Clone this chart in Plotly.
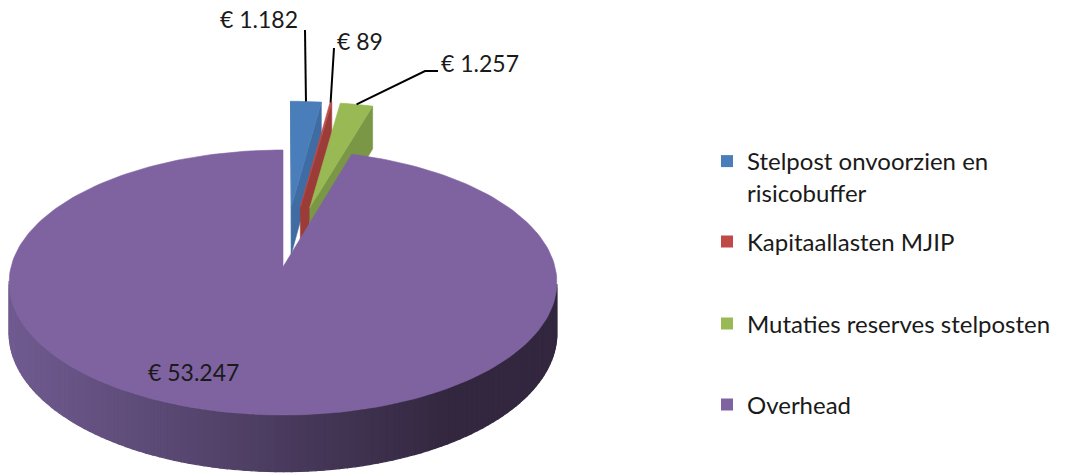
import math
import plotly.graph_objects as go

categories = ["Stelpost onvoorzien en<br>risicobuffer", "Kapitaallasten MJIP",
              "Mutaties reserves stelposten", "Overhead"]
values = [1182, 89, 1257, 53247]
value_labels = ["€ 1.182", "€ 89", "€ 1.257", "€ 53.247"]
exploded = [True, True, True, False]

top_colors = ["#4A7EBB", "#BE4B48", "#98B954", "#7F63A1"]
wall_colors = ["#3F6CA3", "#9C3C39", "#7A9746", "#5A4878"]

FONT = "Lato"

# pie geometry, in pixels of the 1066x474 page
CX, CY = 283, 267
RX, RY = 272, 130.7
DEPTH = 50
PERSP = 0.117
EXPLODE = 0.49


def proj(u, v, z=0.0):
    s = 1 / (1 + PERSP * v)
    return CX + RX * u * s, CY - RY * v * s + DEPTH * z * s


def poly(pts, color, lw=0.6):
    xs = [p[0] for p in pts] + [pts[0][0]]
    ys = [p[1] for p in pts] + [pts[0][1]]
    return go.Scatter(x=xs, y=ys, mode="lines", fill="toself", fillcolor=color,
                      line=dict(color=color, width=lw), hoverinfo="skip",
                      showlegend=False)


def lerp_color(c1, c2, t):
    t = max(0.0, min(1.0, t))
    c = [round(a + (b - a) * t) for a, b in zip(c1, c2)]
    return "rgb(%d,%d,%d)" % tuple(c)


total = sum(values)
slices = []
start = 0.0
for i, v in enumerate(values):
    sweep = 360.0 * v / total
    a0, a1 = start, start + sweep
    mid = math.radians((a0 + a1) / 2)
    d = EXPLODE if exploded[i] else 0.0
    slices.append(dict(a0=a0, a1=a1, ou=d * math.sin(mid), ov=d * math.cos(mid)))
    start = a1

viewer = (0.0, -1 / PERSP)

wall_traces = []
top_traces = []
front_traces = []
for i, s in enumerate(slices):
    ou, ov = s["ou"], s["ov"]
    n = max(4, int((s["a1"] - s["a0"]) / 1.5))
    angs = [math.radians(s["a0"] + (s["a1"] - s["a0"]) * k / n) for k in range(n + 1)]
    arc = [(ou + math.sin(a), ov + math.cos(a)) for a in angs]

    # radial side walls
    for a, sign in ((math.radians(s["a0"]), -1), (math.radians(s["a1"]), 1)):
        nu, nv = sign * math.cos(a), -sign * math.sin(a)
        pu, pv = ou + 0.5 * math.sin(a), ov + 0.5 * math.cos(a)
        if nu * (viewer[0] - pu) + nv * (viewer[1] - pv) > 0:
            eu, ev = ou + math.sin(a), ov + math.cos(a)
            pts = [proj(ou, ov), proj(eu, ev), proj(eu, ev, 1), proj(ou, ov, 1)]
            wall_traces.append((i, poly(pts, wall_colors[i])))

    # outer rim wall, front facing part, shaded left to right
    for k in range(n):
        am = (angs[k] + angs[k + 1]) / 2
        if math.cos(am) < -PERSP:
            p0 = (ou + math.sin(angs[k]), ov + math.cos(angs[k]))
            p1 = (ou + math.sin(angs[k + 1]), ov + math.cos(angs[k + 1]))
            pts = [proj(*p0), proj(*p1), proj(*p1, 1), proj(*p0, 1)]
            xm = (pts[0][0] + pts[1][0]) / 2
            col = lerp_color((112, 91, 144), (50, 39, 63), (xm - 10) / 440)
            front_traces.append((i, poly(pts, col, 1.2)))

    top = [proj(ou, ov)] + [proj(*p) for p in arc]
    top_traces.append((i, poly(top, top_colors[i])))

fig = go.Figure()
small = [i for i in range(len(values)) if exploded[i]]
big = [i for i in range(len(values)) if not exploded[i]]
for grp in (small, big):
    for i, t in wall_traces + front_traces:
        if i in grp:
            fig.add_trace(t)
    for i, t in top_traces:
        if i in grp:
            fig.add_trace(t)

# data labels and leader lines
label_pos = [(259, 19), (360, 41), (480, 63), (193, 372)]
leader_ends = [[(305, 30)], [(334, 48)], [(425, 71), (438, 71)], None]
for i, s in enumerate(slices):
    if leader_ends[i]:
        mid = math.radians((s["a0"] + s["a1"]) / 2)
        px, py = proj(s["ou"] + math.sin(mid), s["ov"] + math.cos(mid))
        pts = [(px, py)] + leader_ends[i]
        fig.add_trace(go.Scatter(x=[p[0] for p in pts], y=[p[1] for p in pts],
                                 mode="lines", line=dict(color="black", width=2),
                                 hoverinfo="skip", showlegend=False))
    fig.add_annotation(x=label_pos[i][0], y=label_pos[i][1], text=value_labels[i],
                       showarrow=False, font=dict(family=FONT, size=23, color="#1a1a1a"))

# legend, one box per entry so spacing matches the original
legend_y = [177, 242, 324, 405]
for i, name in enumerate(categories):
    key = "legend" if i == 0 else "legend%d" % (i + 1)
    fig.add_trace(go.Scatter(x=[None], y=[None], mode="markers", name=name,
                             marker=dict(symbol="square", size=12, color=top_colors[i]),
                             legend=key))
    fig.update_layout({key: dict(x=707 / 1066, y=1 - legend_y[i] / 474,
                                 xanchor="left", yanchor="middle", valign="top",
                                 bgcolor="rgba(0,0,0,0)",
                                 font=dict(family=FONT, size=24, color="#1a1a1a"))})

fig.update_layout(
    width=1066, height=474,
    margin=dict(l=0, r=0, t=0, b=0, pad=0),
    paper_bgcolor="white", plot_bgcolor="white",
    xaxis=dict(range=[0, 1066], visible=False, fixedrange=True),
    yaxis=dict(range=[474, 0], visible=False, fixedrange=True),
    hovermode=False,
)

fig.write_html("out.html", config={"displayModeBar": False},
               post_script="document.body.style.margin='0px';")
